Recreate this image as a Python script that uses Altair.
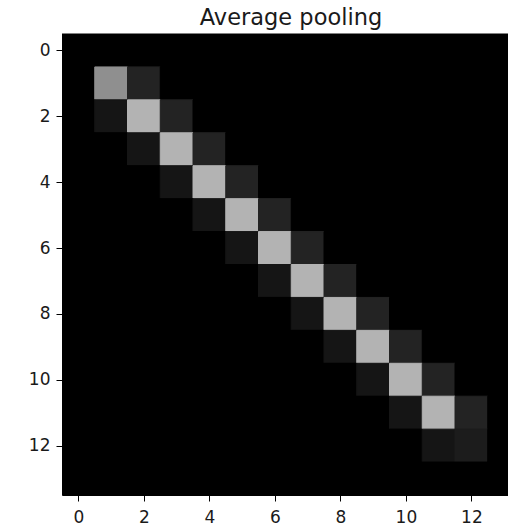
import altair as alt
import pandas as pd

# 14x14 average-pooled image; all cells not listed below are 0 (black)
n_size = 14
# diagonal cells (r, r)
diag_rows = [1, 2, 3, 4, 5, 6, 7, 8, 9, 10, 11, 12]
diag_vals = [0.56, 0.70, 0.70, 0.70, 0.70, 0.70, 0.70, 0.70, 0.70, 0.70, 0.70, 0.11]
# cells right of the diagonal (r, r+1)
upper_rows = [1, 2, 3, 4, 5, 6, 7, 8, 9, 10, 11]
upper_vals = [0.137, 0.137, 0.137, 0.137, 0.137, 0.137, 0.137, 0.137, 0.137, 0.137, 0.137]
# cells below the diagonal (r+1, r)
lower_cols = [1, 2, 3, 4, 5, 6, 7, 8, 9, 10, 11]
lower_vals = [0.082, 0.082, 0.082, 0.082, 0.082, 0.082, 0.082, 0.082, 0.082, 0.082, 0.082]
tick_values = [0, 2, 4, 6, 8, 10, 12]
title_text = ["Average pooling"]

grid = {(r, c): 0.0 for r in range(n_size) for c in range(n_size)}
for r, v in zip(diag_rows, diag_vals):
    grid[(r, r)] = v
for r, v in zip(upper_rows, upper_vals):
    grid[(r, r + 1)] = v
for c, v in zip(lower_cols, lower_vals):
    grid[(c + 1, c)] = v

df = pd.DataFrame(
    [{"x0": c - 0.5, "x1": c + 0.5, "y0": r - 0.5, "y1": r + 0.5, "v": v}
     for (r, c), v in grid.items()]
)

W = 446
H = 461
unit = 32.75

axis_common = dict(
    domainColor="#000000", domainWidth=1, tickColor="#000000", tickSize=6,
    tickWidth=1, labelFont="DejaVu Sans", labelFontSize=17, labelColor="#1a1a1a",
    grid=False, title=None, values=tick_values,
)

xscale = alt.Scale(domain=[-0.5, -0.5 + W / unit], nice=False, zero=False)
yscale = alt.Scale(domain=[-0.5, 13.5], nice=False, zero=False, reverse=True)

cmap = alt.Scale(domain=[0, 1], range=["#000000", "#ffffff"], interpolate="rgb")

background = alt.Chart(df.head(1)).mark_rect(color="#000000").encode(
    x=alt.value(0), x2=alt.value(W), y=alt.value(0), y2=alt.value(H)
)

cells = alt.Chart(df).mark_rect(clip=True, strokeWidth=1).encode(
    x=alt.X("x0:Q", scale=xscale, axis=alt.Axis(labelPadding=8, format="d", **axis_common)),
    x2="x1:Q",
    y=alt.Y("y0:Q", scale=yscale, axis=alt.Axis(labelPadding=6, format="d", **axis_common)),
    y2="y1:Q",
    color=alt.Color("v:Q", scale=cmap, legend=None),
    stroke=alt.Stroke("v:Q", scale=cmap, legend=None),
)

top_spine = alt.Chart(df.head(1)).mark_rule(color="#000000", strokeWidth=1).encode(
    x=alt.value(0), x2=alt.value(W), y=alt.value(0)
)

title = alt.Chart(pd.DataFrame({"t": title_text})).mark_text(
    font="DejaVu Sans", fontSize=22.5, color="#1a1a1a", align="center", baseline="alphabetic"
).encode(
    text="t:N", x=alt.value(W / 2 + 6), y=alt.value(-9)
)

chart = alt.layer(background, cells, top_spine, title).properties(
    width=W, height=H,
    padding={"left": 62, "top": 34, "right": 0, "bottom": 35},
    autosize=alt.AutoSizeParams(type="none"),
).configure_view(stroke=None).configure(background="white")

chart.save("out.html", embed_options={"renderer": "svg", "actions": False})
